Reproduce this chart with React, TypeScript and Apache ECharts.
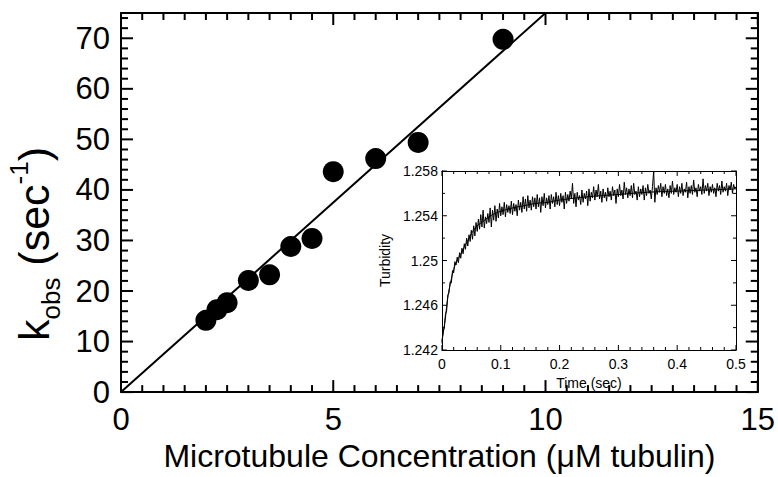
import React, { useEffect, useRef } from "react";
import * as echarts from "echarts";

// Main plot: k_obs vs microtubule concentration
const concentration = [2, 2.26, 2.5, 3, 3.5, 4, 4.5, 5, 6, 7, 9];
const kobs = [14.2, 16.3, 17.7, 22.1, 23.2, 28.8, 30.4, 43.6, 46.2, 49.4, 69.8];
const fitLineX = [0, 10];
const fitLineY = [0, 75];

// Inset: turbidity transient, sampled every 2 ms
const TRACE_DT = 0.002;
const traceV = [
  1.2426, 1.2437, 1.2440, 1.2452, 1.2455, 1.2469, 1.2471, 1.2481, 1.2480, 1.2491,
  1.2489, 1.2499, 1.2496, 1.2503, 1.2498, 1.2507, 1.2502, 1.2511, 1.2506, 1.2515,
  1.2510, 1.2520, 1.2513, 1.2523, 1.2517, 1.2527, 1.2519, 1.2531, 1.2522, 1.2534,
  1.2526, 1.2537, 1.2528, 1.2541, 1.2530, 1.2545, 1.2529, 1.2539, 1.2533, 1.2542,
  1.2534, 1.2547, 1.2530, 1.2545, 1.2536, 1.2549, 1.2535, 1.2546, 1.2538, 1.2551,
  1.2540, 1.2548, 1.2541, 1.2552, 1.2539, 1.2550, 1.2543, 1.2549, 1.2542, 1.2553,
  1.2541, 1.2551, 1.2544, 1.2550, 1.2540, 1.2554, 1.2545, 1.2552, 1.2543, 1.2557,
  1.2546, 1.2555, 1.2544, 1.2558, 1.2547, 1.2554, 1.2545, 1.2557, 1.2548, 1.2556,
  1.2546, 1.2559, 1.2548, 1.2556, 1.2543, 1.2557, 1.2549, 1.2560, 1.2547, 1.2556,
  1.2550, 1.2558, 1.2546, 1.2559, 1.2551, 1.2557, 1.2548, 1.2561, 1.2550, 1.2558,
  1.2549, 1.2560, 1.2552, 1.2558, 1.2546, 1.2561, 1.2551, 1.2559, 1.2553, 1.2562,
  1.2555, 1.2569, 1.2551, 1.2560, 1.2548, 1.2561, 1.2554, 1.2558, 1.2550, 1.2563,
  1.2552, 1.2560, 1.2555, 1.2562, 1.2549, 1.2564, 1.2553, 1.2561, 1.2556, 1.2566,
  1.2554, 1.2563, 1.2557, 1.2568, 1.2555, 1.2562, 1.2552, 1.2564, 1.2556, 1.2561,
  1.2553, 1.2565, 1.2557, 1.2562, 1.2554, 1.2566, 1.2558, 1.2563, 1.2551, 1.2564,
  1.2557, 1.2568, 1.2558, 1.2563, 1.2555, 1.2570, 1.2559, 1.2565, 1.2556, 1.2564,
  1.2558, 1.2567, 1.2556, 1.2569, 1.2559, 1.2562, 1.2554, 1.2566, 1.2557, 1.2564,
  1.2559, 1.2567, 1.2554, 1.2565, 1.2558, 1.2568, 1.2560, 1.2563, 1.2555, 1.2566,
  1.2580, 1.2552, 1.2565, 1.2559, 1.2567, 1.2561, 1.2569, 1.2557, 1.2566, 1.2560,
  1.2568, 1.2558, 1.2564, 1.2556, 1.2567, 1.2560, 1.2571, 1.2559, 1.2565, 1.2561,
  1.2568, 1.2557, 1.2566, 1.2560, 1.2569, 1.2558, 1.2564, 1.2561, 1.2570, 1.2556,
  1.2566, 1.2560, 1.2567, 1.2559, 1.2572, 1.2561, 1.2565, 1.2557, 1.2568, 1.2562,
  1.2566, 1.2559, 1.2573, 1.2560, 1.2567, 1.2562, 1.2569, 1.2558, 1.2566, 1.2561,
  1.2568, 1.2560, 1.2565, 1.2557, 1.2569, 1.2562, 1.2567, 1.2559, 1.2571, 1.2561,
  1.2566, 1.2562, 1.2569, 1.2558, 1.2567, 1.2563, 1.2570, 1.2560, 1.2568, 1.2564,
  1.2566,
];
const fitT = [0, 0.005, 0.01, 0.015, 0.02, 0.025, 0.03, 0.035, 0.04, 0.045, 0.05, 0.055, 0.06, 0.07, 0.08, 0.09, 0.1, 0.12, 0.14, 0.16, 0.18, 0.2, 0.25, 0.3, 0.35, 0.4, 0.45, 0.5];
const fitV = [1.2428, 1.2445, 1.2467, 1.2481, 1.2492, 1.2499, 1.2504, 1.2509, 1.2514, 1.2519, 1.2524, 1.2528, 1.2531, 1.2535, 1.2539, 1.2542, 1.2544, 1.2547, 1.2549, 1.2551, 1.2552, 1.2554, 1.2557, 1.2559, 1.2561, 1.2562, 1.2563, 1.2564];

// Axis tick specs: first tick, step, number of steps, every n-th is major
const MAIN_X_TICKS = { min: 0, step: 0.5, count: 30, majorEvery: 10 };
const MAIN_Y_TICKS = { min: 0, step: 2, count: 37, majorEvery: 5 };
const INSET_X_TICKS = { min: 0, step: 0.02, count: 25, majorEvery: 5 };
const INSET_Y_TICKS = { min: 1.242, step: 0.002, count: 8, majorEvery: 2 };

const FONT = "'Liberation Sans', Arial, Helvetica, sans-serif";
const BLACK = "#000";

type TickSpec = { min: number; step: number; count: number; majorEvery: number };

// Tick marks drawn as thin rectangle symbols, positioned through the axes' scales.
function tickSeries(
  xs: TickSpec,
  ys: TickSpec,
  xRange: [number, number],
  yRange: [number, number],
  majorLen: number,
  minorLen: number,
  w: number
): any[] {
  const xMaj: number[] = [];
  const xMin: number[] = [];
  for (let i = 0; i <= xs.count; i++) {
    const v = +(xs.min + i * xs.step).toFixed(6);
    (i % xs.majorEvery === 0 ? xMaj : xMin).push(v);
  }
  const yMaj: number[] = [];
  const yMin: number[] = [];
  for (let i = 0; i <= ys.count; i++) {
    const v = +(ys.min + i * ys.step).toFixed(6);
    (i % ys.majorEvery === 0 ? yMaj : yMin).push(v);
  }
  const mk = (data: number[][], size: number[], offset: number[]) => ({
    type: "scatter",
    data,
    symbol: "rect",
    symbolSize: size,
    symbolOffset: offset,
    itemStyle: { color: BLACK, opacity: 1 },
    silent: true,
    clip: false,
    z: 10,
  });
  const out: any[] = [];
  [
    [xMaj, majorLen],
    [xMin, minorLen],
  ].forEach(([vals, len]: any) => {
    out.push(mk(vals.map((v: number) => [v, yRange[0]]), [w, len], [0, -len / 2]));
    out.push(mk(vals.map((v: number) => [v, yRange[1]]), [w, len], [0, len / 2]));
  });
  [
    [yMaj, majorLen],
    [yMin, minorLen],
  ].forEach(([vals, len]: any) => {
    out.push(mk(vals.map((v: number) => [xRange[0], v]), [len, w], [len / 2, 0]));
    out.push(mk(vals.map((v: number) => [xRange[1], v]), [len, w], [-len / 2, 0]));
  });
  return out;
}

const yTitle = {
  type: "text",
  x: 34,
  y: 244,
  rotation: Math.PI / 2,
  style: {
    text: "{n|k}{sub|obs}{n| (sec}{sup|-1}{n|)}",
    align: "center",
    verticalAlign: "middle",
    fill: BLACK,
    rich: {
      n: { fontSize: 43, fontFamily: FONT, fill: BLACK, lineHeight: 48, verticalAlign: "middle" },
      sub: { fontSize: 26, fontFamily: FONT, fill: BLACK, lineHeight: 26, verticalAlign: "bottom", padding: [0, 0, -6, 0] },
      sup: { fontSize: 26, fontFamily: FONT, fill: BLACK, lineHeight: 26, verticalAlign: "top", padding: [-4, 0, 0, 0] },
    },
  },
};

function mainOption(): any {
  const lbl = { fontSize: 31, color: BLACK, fontFamily: FONT };
  const xAx = (position: string, labels: boolean) => ({
    type: "value",
    position,
    min: 0,
    max: 15,
    interval: 5,
    axisLine: { show: true, onZero: false, lineStyle: { color: BLACK, width: 2 } },
    axisTick: { show: false },
    splitLine: { show: false },
    axisLabel: { show: labels, margin: 12, ...lbl },
  });
  const yAx = (position: string, labels: boolean) => ({
    type: "value",
    position,
    min: 0,
    max: 75,
    interval: 10,
    axisLine: { show: true, onZero: false, lineStyle: { color: BLACK, width: 2 } },
    axisTick: { show: false },
    splitLine: { show: false },
    axisLabel: { show: labels, margin: 11, showMaxLabel: false, ...lbl },
  });
  return {
    animation: false,
    backgroundColor: "#fff",
    grid: [{ left: 121, top: 13, width: 637, height: 383 }],
    xAxis: [
      {
        ...xAx("bottom", true),
        name: "Microtubule Concentration (\u03bcM tubulin)",
        nameLocation: "middle",
        nameGap: 46,
        nameTextStyle: { fontSize: 32, color: BLACK, fontFamily: FONT },
      },
      xAx("top", false),
    ],
    yAxis: [yAx("left", true), yAx("right", false)],
    graphic: [yTitle],
    series: [
      {
        type: "line",
        data: fitLineX.map((x, i) => [x, fitLineY[i]]),
        showSymbol: false,
        symbol: "none",
        lineStyle: { color: BLACK, width: 2 },
        clip: true,
      },
      {
        type: "scatter",
        data: concentration.map((x, i) => [x, kobs[i]]),
        symbol: "circle",
        symbolSize: 21,
        itemStyle: { color: BLACK, opacity: 1 },
      },
      ...tickSeries(MAIN_X_TICKS, MAIN_Y_TICKS, [0, 15], [0, 75], 12, 7, 2),
    ],
  };
}

function insetOption(): any {
  const lbl = { fontSize: 14, color: BLACK, fontFamily: FONT };
  const xAx = (position: string, labels: boolean) => ({
    type: "value",
    position,
    min: 0,
    max: 0.5,
    interval: 0.1,
    axisLine: { show: true, onZero: false, lineStyle: { color: BLACK, width: 1 } },
    axisTick: { show: false },
    splitLine: { show: false },
    axisLabel: { show: labels, margin: 7, ...lbl, formatter: (v: number) => String(+v.toFixed(2)) },
    name: labels ? "Time (sec)" : "",
    nameLocation: "middle",
    nameGap: 25,
    nameTextStyle: { ...lbl },
  });
  const yAx = (position: string, labels: boolean) => ({
    type: "value",
    position,
    min: 1.242,
    max: 1.258,
    interval: 0.004,
    axisLine: { show: true, onZero: false, lineStyle: { color: BLACK, width: 1 } },
    axisTick: { show: false },
    splitLine: { show: false },
    axisLabel: { show: labels, margin: 4, ...lbl, formatter: (v: number) => String(+v.toFixed(3)) },
    name: labels ? "Turbidity" : "",
    nameLocation: "middle",
    nameRotate: 90,
    nameGap: 45,
    nameTextStyle: { ...lbl },
  });
  return {
    animation: false,
    grid: [{ left: 67, top: 11, width: 299, height: 179, show: true, backgroundColor: "#fff", borderWidth: 0 }],
    xAxis: [xAx("bottom", true), xAx("top", false)],
    yAxis: [yAx("left", true), yAx("right", false)],
    series: [
      {
        type: "line",
        data: traceV.map((v, i) => [i * TRACE_DT, v]),
        showSymbol: false,
        symbol: "none",
        lineStyle: { color: BLACK, width: 1 },
        clip: true,
      },
      {
        type: "line",
        data: fitT.map((t, i) => [t, fitV[i]]),
        showSymbol: false,
        symbol: "none",
        smooth: true,
        lineStyle: { color: BLACK, width: 1 },
        clip: true,
      },
      ...tickSeries(INSET_X_TICKS, INSET_Y_TICKS, [0, 0.5], [1.242, 1.258], 5, 3, 1),
    ],
  };
}

export default function App() {
  const mainRef = useRef<HTMLDivElement>(null);
  const insetRef = useRef<HTMLDivElement>(null);
  useEffect(() => {
    if (!mainRef.current || !insetRef.current) return;
    const main = echarts.init(mainRef.current, null, { renderer: "svg" });
    main.setOption(mainOption());
    const inset = echarts.init(insetRef.current, null, { renderer: "svg" });
    inset.setOption(insetOption());
    return () => {
      main.dispose();
      inset.dispose();
    };
  }, []);

  return (
    <div style={{ position: "fixed", left: 0, top: 0, width: 778, height: 477, background: "#fff" }}>
      <div ref={mainRef} style={{ position: "absolute", left: 0, top: 0, width: 778, height: 477 }} />
      <div ref={insetRef} style={{ position: "absolute", left: 370, top: 160, width: 380, height: 235 }} />
    </div>
  );
}
